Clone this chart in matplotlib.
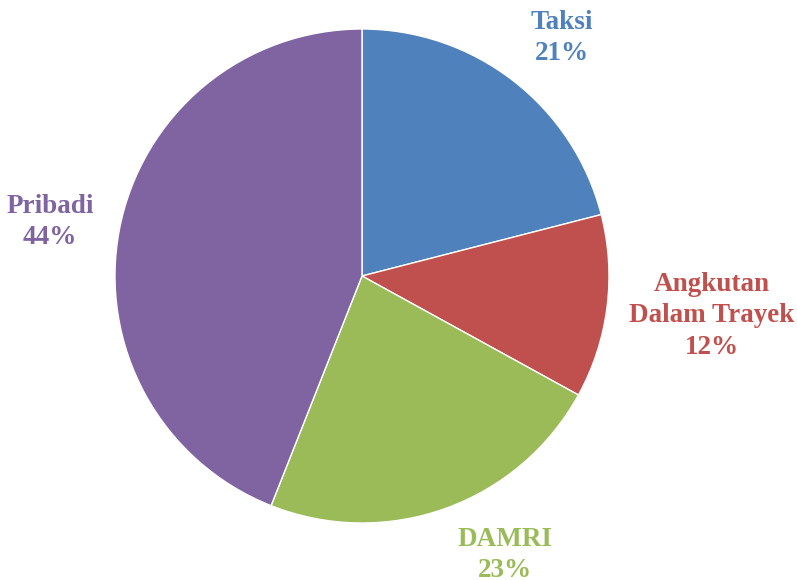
import matplotlib

matplotlib.use("Agg")
import matplotlib.pyplot as plt

# ---- data -------------------------------------------------------------------
CATEGORIES = ["Taksi", "Angkutan\nDalam Trayek", "DAMRI", "Pribadi"]
SHARES = [21, 12, 23, 44]
COLORS = ["#4F81BD", "#C0504D", "#9BBB59", "#8064A2"]

# ---- layout (pixel coords, y up) -------------------------------------------
W, H = 797, 580
CENTER = (362, H - 276)
RADIUS = 247
LABEL_POS = [(562, H - 38), (712, H - 316), (505, H - 555), (50, H - 222)]

plt.rcParams["font.family"] = ["Liberation Serif", "DejaVu Serif"]

fig = plt.figure(figsize=(W / 100, H / 100), dpi=100)
ax = fig.add_axes([0, 0, 1, 1])

ax.pie(SHARES, colors=COLORS, startangle=90, counterclock=False,
       center=CENTER, radius=RADIUS, frame=True,
       wedgeprops={"edgecolor": "white", "linewidth": 1.0})
ax.set_xlim(0, W)
ax.set_ylim(0, H)
ax.set_aspect("equal")
ax.axis("off")

for name, share, color, (x, y) in zip(CATEGORIES, SHARES, COLORS, LABEL_POS):
    ax.text(x, y, f"{name}\n{share}%", ha="center", va="center", color=color,
            fontsize=19.5, fontweight="bold", linespacing=1.35)

fig.savefig("out.png", dpi=100)
